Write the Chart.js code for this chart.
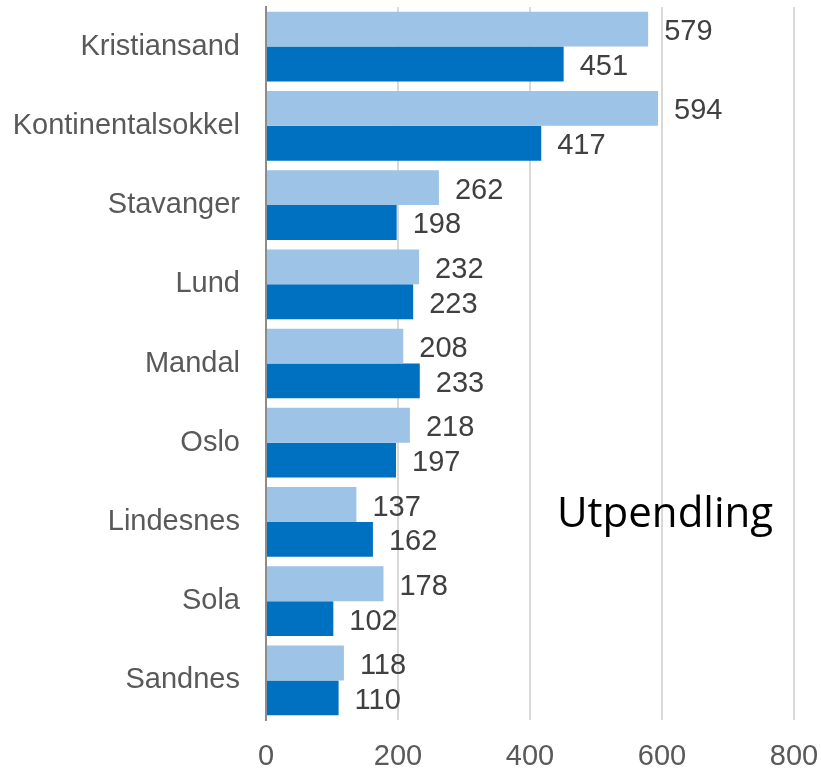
<!DOCTYPE html>
<html>
<head>
<meta charset="utf-8">
<script src="https://cdn.jsdelivr.net/npm/chart.js@4.4.1/dist/chart.umd.min.js"></script>
<style>
  html, body { margin: 0; padding: 0; background: #fff; }
  #wrap { position: relative; width: 821px; height: 772px; }
</style>
</head>
<body>
<div id="wrap"><canvas id="myChart" width="821" height="772"></canvas></div>
<script>
const categories = ["Kristiansand", "Kontinentalsokkel", "Stavanger", "Lund", "Mandal", "Oslo", "Lindesnes", "Sola", "Sandnes"];
const seriesLight = [579, 594, 262, 232, 208, 218, 137, 178, 118];
const seriesDark = [451, 417, 198, 223, 233, 197, 162, 102, 110];
const xTicks = [0, 200, 400, 600, 800];
const noteText = "Utpendling";

const FONT = "'Liberation Sans', Arial, sans-serif";

const barLabels = {
  id: "barLabels",
  afterDatasetsDraw(chart) {
    const ctx = chart.ctx;
    ctx.save();
    ctx.font = "29px " + FONT;
    ctx.fillStyle = "#404040";
    ctx.textAlign = "left";
    ctx.textBaseline = "middle";
    chart.data.datasets.forEach((ds, i) => {
      chart.getDatasetMeta(i).data.forEach((bar, j) => {
        ctx.fillText(ds.data[j], bar.x + 16, bar.y + 3);
      });
    });
    ctx.font = "42px 'Open Sans', 'Liberation Sans', sans-serif";
    ctx.fillStyle = "#000";
    ctx.fillText(noteText, 557, 515);
    ctx.restore();
  }
};

const ctx = document.getElementById("myChart").getContext("2d");
const myChart = new Chart(ctx, {
  type: "bar",
  data: {
    labels: categories,
    datasets: [
      { data: seriesLight, backgroundColor: "#9dc3e6", borderWidth: 0 },
      { data: seriesDark, backgroundColor: "#0070c0", borderWidth: 0 }
    ]
  },
  options: {
    indexAxis: "y",
    responsive: false,
    animation: false,
    layout: { padding: { top: 7, right: 27, left: 0, bottom: 0 } },
    plugins: { legend: { display: false }, tooltip: { enabled: false } },
    datasets: { bar: { categoryPercentage: 0.88, barPercentage: 1 } },
    scales: {
      x: {
        min: 0,
        max: 800,
        afterBuildTicks: (axis) => { axis.ticks = xTicks.map(v => ({ value: v })); },
        grid: { color: "#d9d9d9", lineWidth: 2, drawTicks: false },
        border: { display: false },
        ticks: { color: "#595959", font: { size: 29, family: FONT }, padding: 20, maxRotation: 0 },
        afterFit: (axis) => { axis.height = 52; axis.paddingLeft = 0; axis.paddingRight = 0; }
      },
      y: {
        grid: { display: false, drawTicks: false },
        border: { color: "#8c8c8c", width: 2 },
        ticks: { color: "#595959", font: { size: 29, family: FONT }, padding: 26 },
        afterFit: (axis) => { axis.width = 266; axis.paddingTop = 0; axis.paddingBottom = 0; }
      }
    }
  },
  plugins: [barLabels]
});
</script>
</body>
</html>
